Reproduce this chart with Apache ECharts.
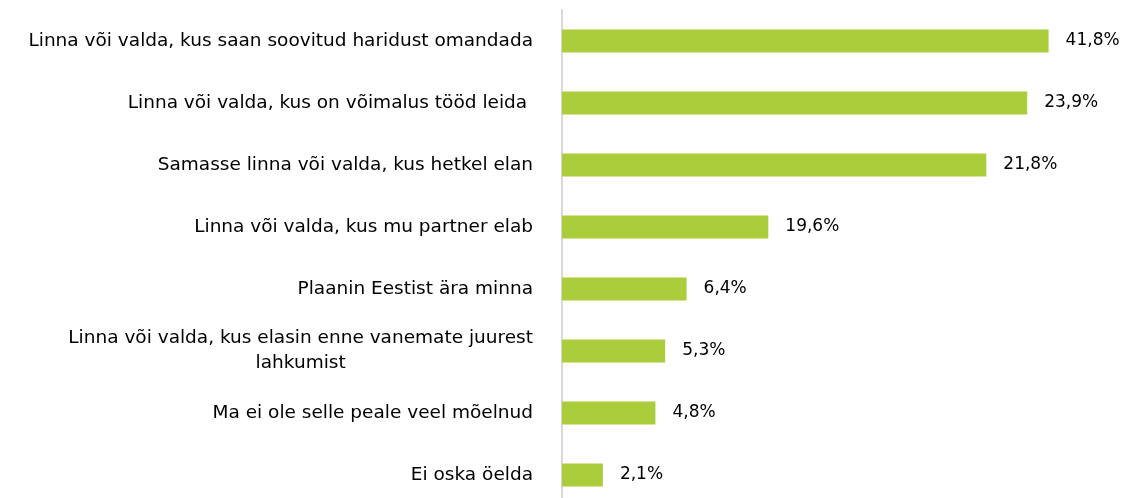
<!DOCTYPE html>
<html>
<head>
<meta charset="utf-8">
<script src="https://cdn.jsdelivr.net/npm/echarts@6/dist/echarts.min.js"></script>
<style>
  html, body { margin: 0; padding: 0; background: #fff; overflow: hidden; }
  #chart { width: 1129px; height: 506px; }
</style>
</head>
<body>
<div id="chart"></div>
<script>
// categories, top to bottom
const categories = [
    'Linna või valda, kus saan soovitud haridust omandada',
    'Linna või valda, kus on võimalus tööd leida ',
    'Samasse linna või valda, kus hetkel elan',
    'Linna või valda, kus mu partner elab',
    'Plaanin Eestist ära minna',
    'Linna või valda, kus elasin enne vanemate juurest\nlahkumist',
    'Ma ei ole selle peale veel mõelnud',
    'Ei oska öelda'
];
// bar lengths as drawn in the picture
const barValues = [25.0, 23.9, 21.8, 10.6, 6.4, 5.3, 4.8, 2.1];
// value labels as printed
const valueLabels = ['41,8%', '23,9%', '21,8%', '19,6%', '6,4%', '5,3%', '4,8%', '2,1%'];

const FONT = 'DejaVu Sans';
let myChart = echarts.init(document.getElementById('chart'));
let option = {
    animation: false,
    grid: {
        left: 562,
        width: 545,
        top: 10,
        bottom: 0,
        containLabel: false
    },
    xAxis: {
        type: 'value',
        min: 0,
        max: 28,
        show: false
    },
    yAxis: {
        type: 'category',
        inverse: true,
        data: categories,
        axisLine: { show: true, lineStyle: { color: '#d9d9d9', width: 2 } },
        axisTick: { show: false },
        axisLabel: {
            margin: 29,
            color: '#000',
            fontFamily: FONT,
            fontSize: 18.5,
            formatter: v => v.split('\n').map(s => '{a|' + s + '}').join('\n'),
            rich: {
                a: { align: 'center', fontFamily: FONT, fontSize: 18.5, color: '#000', lineHeight: 25 }
            }
        }
    },
    series: [{
        type: 'bar',
        data: barValues,
        barWidth: 23,
        itemStyle: { color: '#abcd3b' },
        label: {
            show: true,
            position: 'right',
            distance: 17,
            color: '#000',
            fontFamily: FONT,
            fontSize: 17,
            formatter: p => valueLabels[p.dataIndex]
        }
    }]
};
myChart.setOption(option);
</script>
</body>
</html>
